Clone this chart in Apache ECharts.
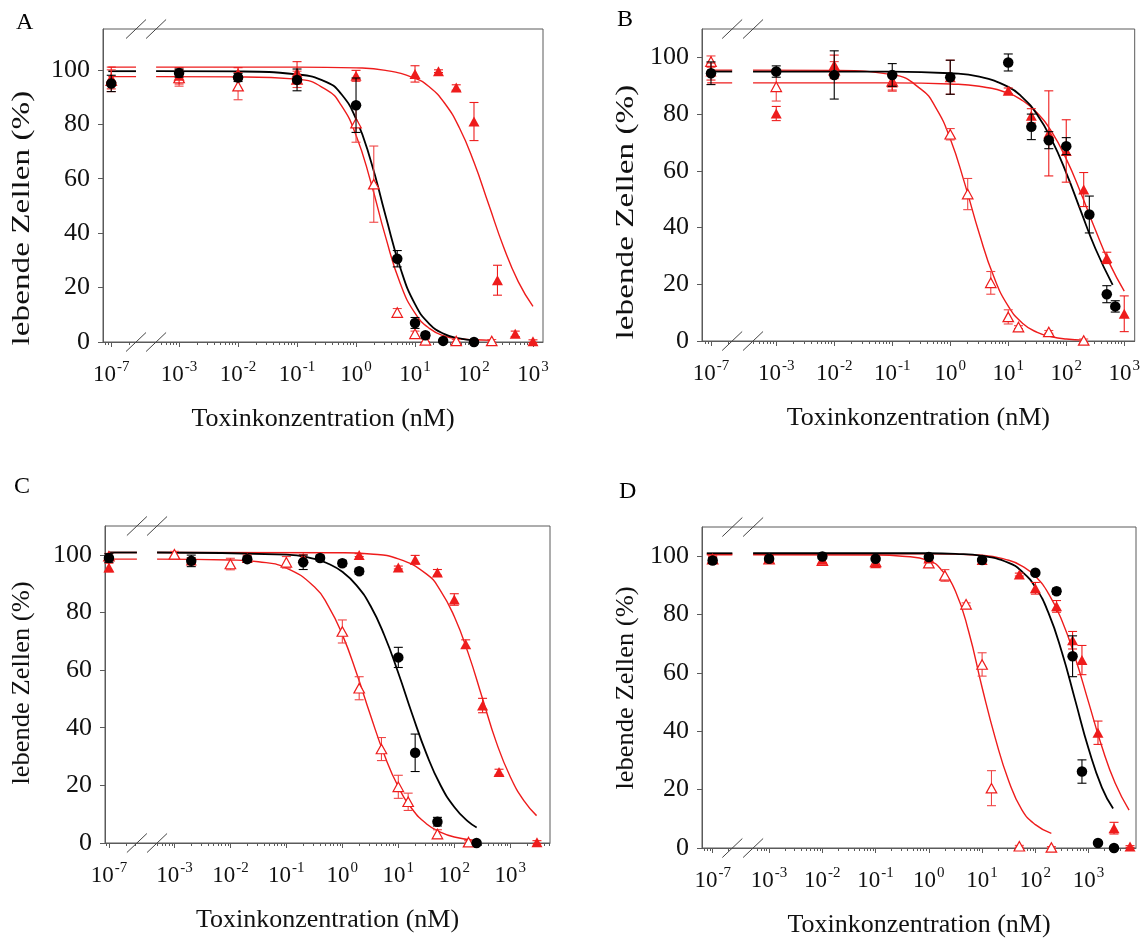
<!DOCTYPE html>
<html>
<head>
<meta charset="utf-8">
<script src="https://cdn.jsdelivr.net/npm/echarts@6/dist/echarts.min.js"></script>
<style>
  html, body { margin: 0; padding: 0; background: #fff; }
  #chart { width: 1143px; height: 940px; }
</style>
</head>
<body>
<div id="chart"></div>
<script>
// Cell viability after toxin treatment, four cell lines (A-D).
// Concentrations in nM; 1e-7 nM stands for the untreated control, drawn left of the axis break.
// Values are surviving cells in %, with standard deviations.

// ---- Panel A ----
const A_BLACK_NM  = [1e-7, 0.001, 0.01, 0.1, 1, 5, 10, 15, 30, 100];
const A_BLACK_PCT = [95, 98.8, 97.2, 96.3, 87, 30.6, 7, 2.5, 0.4, 0];
const A_BLACK_SD  = [3, 1.5, 1.5, 4, 10, 3, 2, 1, 0.5, 0.5];
const A_RED_NM    = [1e-7, 0.001, 0.01, 0.1, 1, 10, 25, 50, 100, 250, 500, 1000];
const A_RED_PCT   = [97, 97.8, 98.8, 99, 97.8, 98.5, 99.5, 93.5, 81, 22.7, 3, 0.3];
const A_RED_SD    = [4, 3, 2, 4, 2, 3, 0.5, 1, 7, 5.5, 1, 0.5];
const A_OPEN_NM   = [1e-7, 0.001, 0.01, 0.1, 1, 2, 5, 10, 15, 50, 200];
const A_OPEN_PCT  = [96, 97, 94, 96.5, 80.4, 58, 10.8, 3, 0.6, 0.4, 0.4];
const A_OPEN_SD   = [4, 3, 5, 3, 7, 14, 1.5, 1, 0.5, 0.5, 0.5];
// fitted dose-response curves as [log10(nM), %]
const A_FIT_BLACK = [[-3.39,99.5],[-2,99.4],[-1,98.3],[-0.5,95.5],[-0.25,91.1],[0,82],[0.25,66.6],[0.5,46.5],[0.75,27.3],[1,13.9],[1.25,6.5],[1.5,2.9],[1.75,1.3],[2,0.6]];
const A_FIT_RED   = [[-3.39,101],[-1,101],[0,100.7],[0.5,99.8],[1,96.9],[1.25,93.6],[1.5,87.8],[1.75,78.8],[2,66],[2.25,50.5],[2.5,35],[2.75,22.2],[3,13.1]];
const A_FIT_OPEN  = [[-3.39,97.5],[-2,97.4],[-1,96.6],[-0.5,92.6],[-0.25,86.9],[0,76],[0.25,58.8],[0.5,38.7],[0.75,21.5],[1,10.6],[1.25,4.9],[1.5,2.2],[1.75,1.2],[2,0.8],[2.3,0.6]];

// ---- Panel B ----
const B_BLACK_NM  = [1e-7, 0.001, 0.01, 0.1, 1, 10, 25, 50, 100, 250, 500, 700];
const B_BLACK_PCT = [94.4, 95, 93.8, 93.8, 93, 98.2, 75.5, 70.8, 68.7, 44.6, 16.5, 12.2];
const B_BLACK_SD  = [4, 2, 8.5, 4, 6, 3, 4.5, 3, 3, 6.5, 3, 2];
const B_RED_NM    = [1e-7, 0.001, 0.01, 0.1, 1, 10, 25, 50, 100, 200, 500, 1000];
const B_RED_PCT   = [95, 80.2, 97.3, 91.1, 93, 88.2, 79.4, 73.2, 67, 53.4, 29.3, 9.6];
const B_RED_SD    = [3, 2.5, 3.5, 3, 6, 1, 2.5, 15, 11, 6, 2, 6.3];
const B_OPEN_NM   = [1e-7, 0.001, 0.01, 0.1, 1, 2, 5, 10, 15, 50, 200];
const B_OPEN_PCT  = [98.5, 89.6, 95.5, 91.5, 72.9, 51.8, 20.5, 8.5, 4.9, 3.2, 0.2];
const B_OPEN_SD   = [2, 5, 3, 3, 2, 5.5, 4, 2.5, 0.5, 0.5, 0.5];
const B_FIT_BLACK = [[-3.4,95],[-1,95],[0,94.4],[0.5,93.2],[1,89.6],[1.25,85.8],[1.5,79.8],[1.75,70.9],[2,59.3],[2.25,45.9],[2.5,32.7],[2.8,19.8]];
const B_FIT_RED   = [[-3.4,91],[-1,91],[0,90.6],[0.5,89.8],[1,87.4],[1.25,84.7],[1.5,80.4],[1.75,73.7],[2,64.2],[2.25,52.3],[2.5,39.3],[2.75,27.2],[3,17.6]];
const B_FIT_OPEN  = [[-3.4,95.5],[-2,95.4],[-1,93.9],[-0.5,88.7],[-0.25,82.3],[0,71.3],[0.25,55.5],[0.5,37.9],[0.75,22.7],[1,12.3],[1.25,6.2],[1.5,3.05],[1.75,1.5],[2,0.7],[2.3,0.3]];

// ---- Panel C ----
const C_BLACK_NM  = [1e-7, 0.002, 0.02, 0.2, 0.4, 1, 2, 10, 20, 50, 250];
const C_BLACK_PCT = [98.9, 97.9, 98.5, 97.4, 98.9, 97.1, 94.3, 64.4, 31.3, 7.4, 0];
const C_BLACK_SD  = [1.5, 2, 1, 2.5, 1, 1, 1, 3.5, 6.5, 1.5, 0.5];
const C_RED_NM    = [1e-7, 0.002, 0.02, 0.2, 2, 10, 20, 50, 100, 160, 320, 630, 3000];
const C_RED_PCT   = [95.6, 98, 98.9, 99, 99.9, 95.6, 98.3, 93.9, 84.5, 69, 47.7, 24.6, 0.3];
const C_RED_SD    = [1.5, 1, 1, 1, 0.5, 0.5, 1.5, 1, 2, 1.5, 2.5, 1, 0.5];
const C_OPEN_NM   = [1e-7, 0.001, 0.01, 0.1, 1, 2, 5, 10, 15, 50, 180];
const C_OPEN_PCT  = [99.5, 100.2, 96.8, 97.4, 73.4, 53.7, 32.6, 19.5, 14.3, 3.1, 0.3];
const C_OPEN_SD   = [1, 1, 2, 2, 4, 4, 4, 4, 3, 1.5, 0.5];
const C_FIT_BLACK = [[-3.31,100.8],[-1,100.1],[-0.5,98.6],[-0.25,96.9],[0,94.1],[0.25,89.5],[0.5,82.4],[0.75,72.1],[1,59],[1.25,44.6],[1.5,31.1],[1.75,20.2],[2,12.5],[2.25,7.4],[2.4,5.4]];
const C_FIT_RED   = [[-3.31,100.8],[0,100.7],[0.5,100.3],[1,98.6],[1.5,93.4],[1.75,87.7],[2,78.6],[2.25,65.8],[2.5,50.4],[2.75,35],[3,23],[3.25,14.5],[3.47,9.5]];
const C_FIT_OPEN  = [[-3.31,98.5],[-2,98.2],[-1.5,97.6],[-1,95.4],[-0.5,88.9],[-0.25,82.2],[0,72.3],[0.25,59.2],[0.5,44.5],[0.75,30.6],[1,19.5],[1.25,11.7],[1.5,6.7],[1.75,3.8],[2,2.1],[2.4,0.8]];

// ---- Panel D ----
const D_BLACK_NM  = [1e-7, 0.001, 0.01, 0.1, 1, 10, 100, 250, 500, 750, 1500, 3000];
const D_BLACK_PCT = [98.5, 99.1, 99.9, 99.1, 99.7, 98.7, 94.3, 88, 65.7, 26.2, 1.7, 0];
const D_BLACK_SD  = [1, 0.5, 0.5, 0.5, 0.5, 0.5, 0.5, 1, 7, 4, 0.5, 0.3];
const D_RED_NM    = [1e-7, 0.001, 0.01, 0.1, 1, 10, 50, 100, 250, 500, 750, 1500, 3000, 6000];
const D_RED_PCT   = [99, 99.2, 98.8, 97.6, 99.2, 98.7, 93.7, 89, 82.8, 71.2, 64.4, 39.5, 6.8, 0.5];
const D_RED_SD    = [1, 1, 1, 1, 1, 0.5, 0.5, 2, 2, 3, 5, 4, 2, 0.3];
const D_OPEN_NM   = [1e-7, 0.001, 0.01, 0.1, 1, 2, 5, 10, 15, 50, 200];
const D_OPEN_PCT  = [99, 99, 98.5, 98, 97.6, 93.4, 83.5, 62.9, 20.5, 0.6, 0.2];
const D_OPEN_SD   = [1, 1, 1, 1, 1, 2, 0.5, 4, 6, 0.3, 0.3];
const D_FIT_BLACK = [[-3.3,101],[0,101],[0.5,100.8],[1,100.1],[1.5,97.7],[1.75,94.7],[2,89.4],[2.25,80.4],[2.5,67],[2.75,50.5],[3,34],[3.25,20.7],[3.46,13.5]];
const D_FIT_RED   = [[-3.3,100.8],[0,100.8],[1,100.3],[1.5,98.6],[1.75,96.6],[2,93.1],[2.25,87.1],[2.5,77.9],[2.75,65.1],[3,49.9],[3.25,34.7],[3.5,22.2],[3.76,13]];
const D_FIT_OPEN  = [[-3.3,100.5],[-1,100.4],[-0.5,100],[0,98.5],[0.25,95],[0.5,88],[0.75,74],[1,55],[1.25,37.5],[1.5,23],[1.75,13],[2,8],[2.3,5]];

// axis texts
const X_TITLE = 'Toxinkonzentration (nM)';
const Y_TITLE = 'lebende Zellen (%)';
const Y_TICKS = [0, 20, 40, 60, 80, 100];
const DECADES = [-3, -2, -1, 0, 1, 2, 3];
const CONTROL_EXP = -7;

// ---- styling / layout ----
const SERIF = "'Liberation Serif', 'Times New Roman', serif";
const RED = '#ee1c1c';
const RED_LIGHT = '#f04545';
const INK = '#111111';
const FRAME = '#5a5a5a';

const PANELS = [
  { letter: 'A', grid: { left: 103, top: 29, width: 440, height: 313 },
    xMin: -4.29, xMax: 3.17, ctrl: -4.15, stub: [-4.2, -3.73], yMax: 115,
    yTitle: [22.5, 218, 1.33], letterPos: [16, 11],
    black: [A_BLACK_NM, A_BLACK_PCT, A_BLACK_SD], red: [A_RED_NM, A_RED_PCT, A_RED_SD], open: [A_OPEN_NM, A_OPEN_PCT, A_OPEN_SD],
    fitBlack: A_FIT_BLACK, fitRed: A_FIT_RED, fitOpen: A_FIT_OPEN },
  { letter: 'B', grid: { left: 702, top: 29, width: 433, height: 312 },
    xMin: -4.28, xMax: 3.18, ctrl: -4.125, stub: [-4.19, -3.76], yMax: 110,
    yTitle: [626, 212, 1.33], letterPos: [617, 8],
    black: [B_BLACK_NM, B_BLACK_PCT, B_BLACK_SD], red: [B_RED_NM, B_RED_PCT, B_RED_SD], open: [B_OPEN_NM, B_OPEN_PCT, B_OPEN_SD],
    fitBlack: B_FIT_BLACK, fitRed: B_FIT_RED, fitOpen: B_FIT_OPEN },
  { letter: 'C', grid: { left: 105, top: 526, width: 445, height: 317 },
    xMin: -4.24, xMax: 3.71, ctrl: -4.17, stub: [-4.18, -3.67], yMax: 110,
    yTitle: [22.5, 683, 1.06], letterPos: [14, 475],
    black: [C_BLACK_NM, C_BLACK_PCT, C_BLACK_SD], red: [C_RED_NM, C_RED_PCT, C_RED_SD], open: [C_OPEN_NM, C_OPEN_PCT, C_OPEN_SD],
    fitBlack: C_FIT_BLACK, fitRed: C_FIT_RED, fitOpen: C_FIT_OPEN },
  { letter: 'D', grid: { left: 702, top: 527, width: 434, height: 321 },
    xMin: -4.26, xMax: 3.89, ctrl: -4.06, stub: [-4.17, -3.69], yMax: 110,
    yTitle: [626, 688, 1.06], letterPos: [619, 480],
    black: [D_BLACK_NM, D_BLACK_PCT, D_BLACK_SD], red: [D_RED_NM, D_RED_PCT, D_RED_SD], open: [D_OPEN_NM, D_OPEN_PCT, D_OPEN_SD],
    fitBlack: D_FIT_BLACK, fitRed: D_FIT_RED, fitOpen: D_FIT_OPEN }
];

// broken log axis: control sits left of the break, everything else at log10(nM)
function axisPos(nm, p) { return nm <= 1e-6 ? p.ctrl : Math.log10(nm); }
function resumeAt(p) { return p.fitBlack[0][0]; }

function minorTicks(p) {
  const t = [];
  const resume = resumeAt(p);
  for (let n = -4; n <= 3; n++) {
    for (let k = 2; k <= 9; k++) {
      const v = n + Math.log10(k);
      if (v >= resume && v <= p.xMax) t.push(v);
    }
  }
  for (let k = 2; k <= 9; k++) {
    [p.ctrl + Math.log10(k / 10), p.ctrl + Math.log10(k)].forEach(v => {
      if (v > p.xMin + 0.02 && v < p.stub[1] - 0.02) t.push(v);
    });
  }
  return t;
}

const grids = [], xAxes = [], yAxes = [], series = [];

function errorBars(i, p, set, color, z) {
  const [nm, pct, sd] = set;
  return {
    type: 'custom', xAxisIndex: 2 * i, yAxisIndex: i, z, clip: false, silent: true,
    data: nm.map((c, j) => [axisPos(c, p), pct[j] - sd[j], pct[j] + sd[j]]),
    renderItem(params, api) {
      const hi = api.coord([api.value(0), api.value(2)]);
      const lo = api.coord([api.value(0), api.value(1)]);
      const w = 4.5;
      const style = { stroke: color, lineWidth: 1.1 };
      return { type: 'group', children: [
        { type: 'line', shape: { x1: hi[0], y1: hi[1], x2: lo[0], y2: lo[1] }, style },
        { type: 'line', shape: { x1: hi[0] - w, y1: hi[1], x2: hi[0] + w, y2: hi[1] }, style },
        { type: 'line', shape: { x1: lo[0] - w, y1: lo[1], x2: lo[0] + w, y2: lo[1] }, style }
      ] };
    }
  };
}

function markers(i, p, set, symbol, size, itemStyle, z) {
  const [nm, pct] = set;
  return {
    type: 'scatter', xAxisIndex: 2 * i, yAxisIndex: i, z, clip: false, silent: true,
    symbol, symbolSize: size, itemStyle: Object.assign({ opacity: 1 }, itemStyle),
    data: nm.map((c, j) => [axisPos(c, p), pct[j]])
  };
}

function curve(i, data, color, width, z) {
  return {
    type: 'line', xAxisIndex: 2 * i, yAxisIndex: i, z, silent: true,
    data, smooth: 0.5, symbol: 'none', clip: false,
    lineStyle: { color, width }
  };
}

PANELS.forEach((p, i) => {
  grids.push(Object.assign({ show: true, borderColor: FRAME, borderWidth: 1, backgroundColor: '#fff' }, p.grid));

  xAxes.push({
    type: 'value', gridIndex: i, position: 'bottom', min: p.xMin, max: p.xMax,
    name: X_TITLE, nameLocation: 'middle', nameGap: 64,
    nameTextStyle: { fontFamily: SERIF, fontSize: 26, color: INK },
    axisLine: { onZero: false, lineStyle: { color: FRAME, width: 1 } },
    splitLine: { show: false },
    axisTick: { customValues: [p.ctrl].concat(DECADES), length: 5, lineStyle: { color: FRAME } },
    axisLabel: {
      customValues: [p.ctrl].concat(DECADES), margin: 18, color: INK,
      formatter: v => {
        const e = Math.abs(v - p.ctrl) < 1e-6 ? CONTROL_EXP : Math.round(v);
        return '{b|10}{s|' + (e < 0 ? '-' + (-e) : String(e)) + '}';
      },
      rich: {
        b: { fontFamily: SERIF, fontSize: 23, color: INK, lineHeight: 26, verticalAlign: 'bottom' },
        s: { fontFamily: SERIF, fontSize: 15, color: INK, lineHeight: 16, verticalAlign: 'top', padding: [0, 0, 0, 1] }
      }
    }
  });
  // minor log ticks
  xAxes.push({
    type: 'value', gridIndex: i, position: 'bottom', min: p.xMin, max: p.xMax,
    axisLine: { show: false, onZero: false },
    splitLine: { show: false },
    axisLabel: { show: false },
    axisTick: { customValues: minorTicks(p), length: 3, lineStyle: { color: FRAME } }
  });

  yAxes.push({
    type: 'value', gridIndex: i, min: 0, max: p.yMax,
    axisLine: { show: true, onZero: false, lineStyle: { color: FRAME, width: 1 } },
    splitLine: { show: false },
    axisTick: { customValues: Y_TICKS, length: 5, lineStyle: { color: FRAME } },
    axisLabel: { customValues: Y_TICKS, margin: 13, fontFamily: SERIF, fontSize: 26, color: INK }
  });

  // short plateau pieces in front of the break
  [[p.fitOpen, RED, 1.4], [p.fitRed, RED, 1.4], [p.fitBlack, '#000', 1.8]].forEach(([fit, col, w]) => {
    series.push(curve(i, [[p.stub[0], fit[0][1]], [p.stub[1], fit[0][1]]], col, w, 2));
  });
  series.push(curve(i, p.fitOpen, RED, 1.4, 2));
  series.push(curve(i, p.fitRed, RED, 1.4, 2));
  series.push(curve(i, p.fitBlack, '#000', 1.8, 2));

  series.push(errorBars(i, p, p.open, RED_LIGHT, 3));
  series.push(markers(i, p, p.open, 'triangle', [10.5, 9.5], { color: '#fff', borderColor: RED, borderWidth: 1.2 }, 4));
  series.push(errorBars(i, p, p.red, RED, 5));
  series.push(markers(i, p, p.red, 'triangle', [11, 10], { color: RED }, 6));
  series.push(errorBars(i, p, p.black, '#000', 7));
  series.push(markers(i, p, p.black, 'circle', 10.5, { color: '#000' }, 8));
});

function baseGraphics() {
  const g = [];
  PANELS.forEach(p => {
    g.push({
      type: 'text', x: p.letterPos[0], y: p.letterPos[1], silent: true,
      style: { text: p.letter, fontFamily: SERIF, fontSize: 24, fill: '#000', align: 'left', verticalAlign: 'top' }
    });
    g.push({
      type: 'text', x: p.yTitle[0], y: p.yTitle[1], rotation: Math.PI / 2, scaleX: p.yTitle[2], silent: true,
      style: { text: Y_TITLE, fontFamily: SERIF, fontSize: 25, fill: INK, align: 'center', verticalAlign: 'middle' }
    });
  });
  return g;
}

const chart = echarts.init(document.getElementById('chart'), null, { renderer: 'canvas' });
chart.setOption({
  animation: false,
  backgroundColor: '#fff',
  grid: grids, xAxis: xAxes, yAxis: yAxes, series,
  graphic: baseGraphics()
});

// axis-break marks "//" on the bottom axis and the top frame
const marks = [];
PANELS.forEach((p, i) => {
  [p.stub[1], resumeAt(p)].forEach(u => {
    [0, p.yMax].forEach(yv => {
      const c = chart.convertToPixel({ gridIndex: i }, [u, yv]);
      marks.push({
        type: 'line', silent: true, z: 100,
        shape: { x1: c[0] - 10, y1: c[1] + 9.5, x2: c[0] + 10, y2: c[1] - 9.5 },
        style: { stroke: '#444', lineWidth: 1 }
      });
    });
  });
});
chart.setOption({ graphic: baseGraphics().concat(marks) });
</script>
</body>
</html>
